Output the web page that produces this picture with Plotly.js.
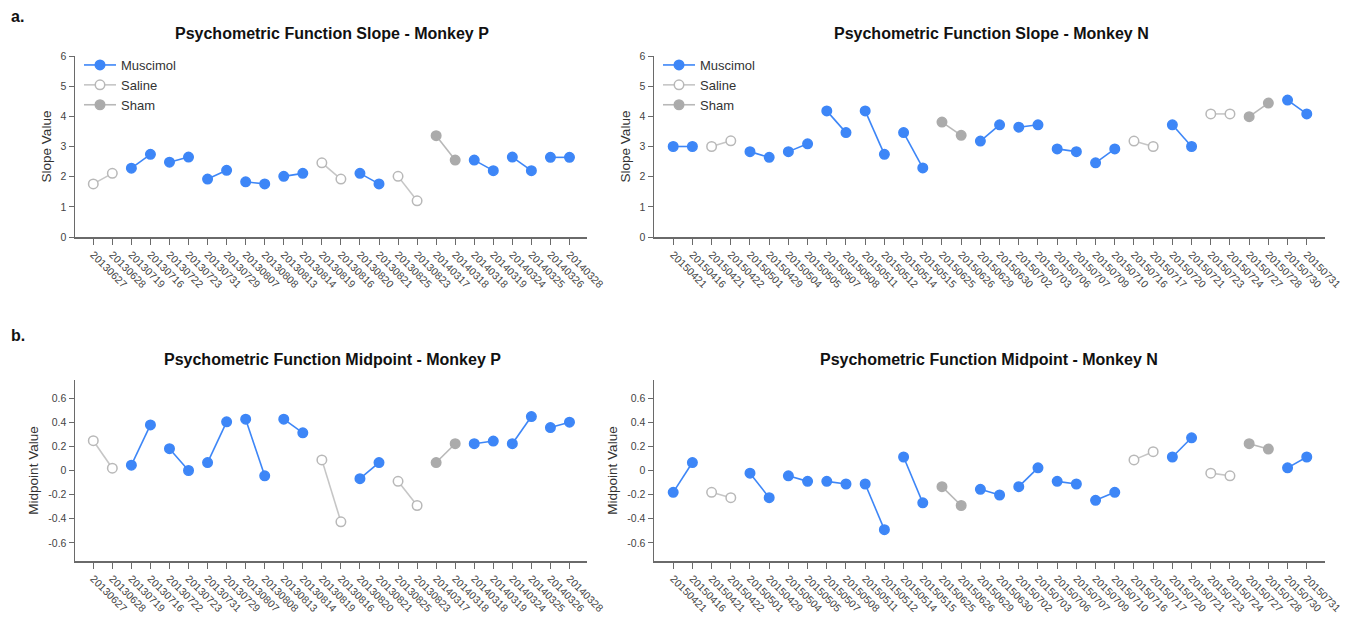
<!DOCTYPE html>
<html>
<head>
<meta charset="utf-8">
<script src="https://cdn.plot.ly/plotly-3.0.1.min.js"></script>
<style>
  html, body { margin: 0; padding: 0; background: #fff; }
  #chart { width: 1350px; height: 619px; }
</style>
</head>
<body>
<div id="chart"></div>
<script>
// ---------- Data ----------
const sessionsP = ["20130627","20130628","20130719","20130716","20130722","20130723","20130731","20130729",
  "20130807","20130808","20130813","20130814","20130819","20130816","20130820","20130821","20130825","20130823",
  "20140317","20140318","20140318","20140319","20140324","20140325","20140326","20140328"];
const sessionsN = ["20150421","20150416","20150421","20150422","20150501","20150429","20150504","20150505",
  "20150507","20150508","20150511","20150512","20150514","20150515","20150625","20150626","20150629","20150630",
  "20150702","20150703","20150706","20150707","20150709","20150710","20150716","20150717","20150720","20150721",
  "20150723","20150724","20150727","20150728","20150730","20150731"];

// condition of each pair of sessions
const conditionP = ["Saline","Muscimol","Muscimol","Muscimol","Muscimol","Muscimol","Saline","Muscimol",
  "Saline","Sham","Muscimol","Muscimol","Muscimol"];
const conditionN = ["Muscimol","Saline","Muscimol","Muscimol","Muscimol","Muscimol","Muscimol","Sham",
  "Muscimol","Muscimol","Muscimol","Muscimol","Saline","Muscimol","Saline","Sham","Muscimol"];

const slopeP = [1.76,2.11, 2.28,2.74, 2.48,2.65, 1.92,2.21, 1.83,1.76, 2.01,2.11, 2.46,1.92,
  2.11,1.76, 2.01,1.20, 3.36,2.55, 2.55,2.20, 2.65,2.20, 2.64,2.64];
const slopeN = [3.00,3.00, 3.00,3.19, 2.83,2.64, 2.83,3.09, 4.18,3.46, 4.18,2.74, 3.46,2.29,
  3.81,3.37, 3.18,3.72, 3.64,3.72, 2.92,2.83, 2.46,2.92, 3.18,3.00, 3.72,3.00, 4.08,4.08,
  3.99,4.44, 4.54,4.08];
const midP = [0.247,0.019, 0.044,0.378, 0.181,0.000, 0.066,0.403, 0.425,-0.044, 0.425,0.312,
  0.088,-0.425, -0.068,0.066, -0.090,-0.290, 0.066,0.222, 0.222,0.244, 0.222,0.447, 0.356,0.400];
const midN = [-0.181,0.066, -0.181,-0.225, -0.022,-0.225, -0.044,-0.090, -0.090,-0.112,
  -0.112,-0.490, 0.112,-0.268, -0.134,-0.290, -0.156,-0.203, -0.134,0.022, -0.090,-0.112,
  -0.247,-0.181, 0.088,0.156, 0.112,0.271, -0.022,-0.044, 0.222,0.178, 0.022,0.112];

const slopeTicks = [0,1,2,3,4,5,6];
const midTickVals = [-0.6,-0.4,-0.2,0,0.2,0.4,0.6];
const midTickText = ["-0.6","-0.4","-0.2","0","0.2","0.4","0.6"];

// ---------- Styles ----------
const FONT = "Liberation Sans, Arial, Helvetica, sans-serif";
const styles = {
  Muscimol: {line: "#3d86f7", fill: "#3d86f7", outline: "#3d86f7"},
  Saline:   {line: "#c6c6c6", fill: "#ffffff", outline: "#b8b8b8"},
  Sham:     {line: "#b8b8b8", fill: "#ababab", outline: "#ababab"}
};
const condOrder = ["Muscimol","Saline","Sham"];

function makeTraces(values, conds, xa, ya, legendName) {
  const out = [];
  condOrder.forEach(c => {
    const xs = [], ys = [];
    conds.forEach((cc, p) => {
      if (cc === c) {
        xs.push(2*p, 2*p+1, null);
        ys.push(values[2*p], values[2*p+1], null);
      }
    });
    const st = styles[c];
    out.push({
      type: "scatter", mode: "lines+markers", name: c,
      x: xs, y: ys, xaxis: xa, yaxis: ya,
      connectgaps: false,
      line: {color: st.line, width: 1.6},
      marker: {size: 9.5, color: st.fill, line: {color: st.outline, width: 1.5}},
      showlegend: !!legendName, legend: legendName || "legend",
      hoverinfo: "x+y"
    });
  });
  return out;
}

const data = [].concat(
  makeTraces(slopeP, conditionP, "x", "y", "legend"),
  makeTraces(slopeN, conditionN, "x2", "y2", "legend2"),
  makeTraces(midP, conditionP, "x3", "y3", null),
  makeTraces(midN, conditionN, "x4", "y4", null)
);

// ---------- Layout ----------
const W = 1350, H = 619;
const px = v => v / W, py = v => 1 - v / H;

function xAxis(domain, labels, range, anchor) {
  return {
    domain: domain, anchor: anchor, range: range,
    tickmode: "array", tickvals: labels.map((_, i) => i), ticktext: labels,
    tickangle: 45, tickfont: {family: FONT, size: 10.5, color: "#444"},
    showline: true, linecolor: "#6a6a6a", linewidth: 1.5,
    ticks: "outside", ticklen: 6, tickwidth: 1, tickcolor: "#6a6a6a",
    showgrid: false, zeroline: false, fixedrange: true
  };
}
function yAxis(domain, range, tickvals, ticktext, title, anchor) {
  return {
    domain: domain, anchor: anchor, range: range,
    tickmode: "array", tickvals: tickvals, ticktext: ticktext,
    tickfont: {family: FONT, size: 10.5, color: "#444"},
    showline: true, linecolor: "#6a6a6a", linewidth: 1.5,
    ticks: "outside", ticklen: 5, tickwidth: 1, tickcolor: "#6a6a6a",
    showgrid: false, zeroline: false, fixedrange: true,
    title: {text: title, font: {family: FONT, size: 13.5, color: "#333"}, standoff: 6}
  };
}

const xdomL = [px(75), px(587)], xdomR = [px(654), px(1325)];
const ydomT = [py(237), py(56)], ydomB = [py(561), py(380)];

const legendBase = {
  bgcolor: "rgba(0,0,0,0)", borderwidth: 0,
  font: {family: FONT, size: 13, color: "#333"},
  xanchor: "left", yanchor: "top", tracegroupgap: 0, itemwidth: 32,
  itemclick: false, itemdoubleclick: false
};

const titleFont = {family: FONT, size: 16, color: "#111", weight: "bold"};
const layout = {
  width: W, height: H,
  margin: {l: 0, r: 0, t: 0, b: 0},
  paper_bgcolor: "#fff", plot_bgcolor: "#fff",
  font: {family: FONT},
  xaxis: xAxis(xdomL, sessionsP, [-0.96, 25.92], "y"),
  yaxis: yAxis(ydomT, [0, 6], slopeTicks, slopeTicks.map(String), "Slope Value", "x"),
  xaxis2: xAxis(xdomR, sessionsN, [-1.0, 33.95], "y2"),
  yaxis2: yAxis(ydomT, [0, 6], slopeTicks, slopeTicks.map(String), "Slope Value", "x2"),
  xaxis3: xAxis(xdomL, sessionsP, [-0.96, 25.92], "y3"),
  yaxis3: yAxis(ydomB, [-0.75, 0.75], midTickVals, midTickText, "Midpoint Value", "x3"),
  xaxis4: xAxis(xdomR, sessionsN, [-1.0, 33.95], "y4"),
  yaxis4: yAxis(ydomB, [-0.75, 0.75], midTickVals, midTickText, "Midpoint Value", "x4"),
  legend: Object.assign({}, legendBase, {x: px(79), y: py(50)}),
  legend2: Object.assign({}, legendBase, {x: px(658), y: py(50)}),
  annotations: [
    {text: "<b>Psychometric Function Slope - Monkey P</b>", x: px(332), y: py(33), xref: "paper", yref: "paper",
     showarrow: false, xanchor: "center", yanchor: "middle", font: titleFont},
    {text: "<b>Psychometric Function Slope - Monkey N</b>", x: px(991), y: py(33), xref: "paper", yref: "paper",
     showarrow: false, xanchor: "center", yanchor: "middle", font: titleFont},
    {text: "<b>Psychometric Function Midpoint - Monkey P</b>", x: px(332), y: py(359), xref: "paper", yref: "paper",
     showarrow: false, xanchor: "center", yanchor: "middle", font: titleFont},
    {text: "<b>Psychometric Function Midpoint - Monkey N</b>", x: px(989), y: py(359), xref: "paper", yref: "paper",
     showarrow: false, xanchor: "center", yanchor: "middle", font: titleFont},
    {text: "<b>a.</b>", x: px(9), y: py(17), xref: "paper", yref: "paper",
     showarrow: false, xanchor: "left", yanchor: "middle", font: {family: FONT, size: 16, color: "#111"}},
    {text: "<b>b.</b>", x: px(9), y: py(335), xref: "paper", yref: "paper",
     showarrow: false, xanchor: "left", yanchor: "middle", font: {family: FONT, size: 16, color: "#111"}}
  ]
};

Plotly.newPlot("chart", data, layout, {displayModeBar: false, staticPlot: true});
</script>
</body>
</html>
